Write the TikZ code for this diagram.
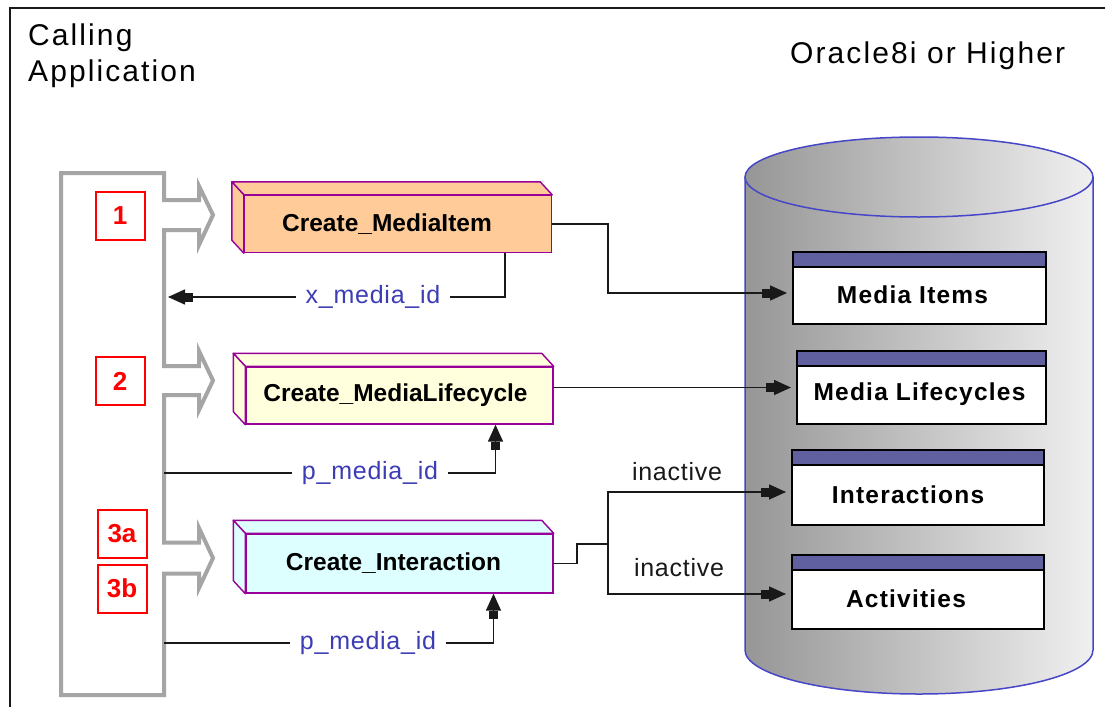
\documentclass[tikz,border=0pt]{standalone}
\usepackage{fontspec}
\setmainfont{Liberation Sans}
\newfontfamily\titlefont[LetterSpace=7]{Liberation Sans}
\newfontfamily\tablefont[LetterSpace=5]{Liberation Sans}
\newfontfamily\flowfont[LetterSpace=3]{Liberation Sans}
\usetikzlibrary{arrows.meta,calc}

\definecolor{appgray}{RGB}{165,165,165}
\definecolor{peach}{RGB}{255,204,153}
\definecolor{paleyellow}{RGB}{255,255,221}
\definecolor{palecyan}{RGB}{221,255,255}
\definecolor{boxpurple}{RGB}{153,0,153}
\definecolor{idblue}{RGB}{60,60,180}
\definecolor{dbblue}{RGB}{70,70,200}
\definecolor{headerblue}{RGB}{96,96,160}
\definecolor{cylleft}{RGB}{150,150,150}
\definecolor{cylright}{RGB}{240,240,240}
\definecolor{inkblack}{RGB}{25,25,25}

% caption set below the coloured header band, nudged sideways by #1
\newcommand\belowhdr[2]{\hspace*{#1}\raisebox{-7pt}[\height][\depth]{#2}}
% procedure caption nudged sideways by #1
\newcommand\nudged[2]{\hspace*{#1}#2}

\begin{document}
\begin{tikzpicture}[x=1pt,y=-1pt,
  proc/.style={draw=boxpurple, line width=1.4pt, minimum width=307pt,
    minimum height=57pt, inner sep=0pt,
    font=\fontsize{24.5}{28}\selectfont\bfseries},
  dbtable/.style={draw=black, fill=white, line width=2pt, inner sep=0pt,
    minimum width=252pt, minimum height=73pt,
    font=\tablefont\fontsize{24.5}{28}\selectfont\bfseries,
    path picture={
      \fill[headerblue] (path picture bounding box.north west) rectangle
        ([yshift=-15pt]path picture bounding box.north east);
      \draw[line width=2pt] ([yshift=-15pt]path picture bounding box.north west)
        -- ([yshift=-15pt]path picture bounding box.north east);}},
  stepnum/.style={draw=red, line width=2pt, text=red, inner sep=0pt,
    minimum width=49pt, minimum height=48pt,
    font=\fontsize{26}{30}\selectfont\bfseries},
  title/.style={anchor=base west, inner sep=0pt,
    font=\titlefont\fontsize{30}{34}\selectfont},
  conn/.style={draw=inkblack, line width=1.6pt},
  tipped/.style={-{Rectangle[length=8pt,width=9pt]Triangle[length=17pt,width=15pt]}},
  flowlbl/.style={fill=white, text=idblue, inner xsep=10pt, inner ysep=1pt,
    font=\flowfont\fontsize{25}{30}\selectfont},
  inact/.style={text=inkblack, inner sep=0pt,
    font=\flowfont\fontsize{25}{30}\selectfont},
]
\useasboundingbox (0,0) rectangle (1105,707);
\fill[white] (0,0) rectangle (1105,707);

% page frame
\draw[line width=2.5pt, inkblack] (1105,8) -- (10,8) -- (10,707);

% titles
\node[title] (calling) at (28,45) {Calling};
\node[title] (appl) at (28,81) {Application};
\node[title] (oracle) at (790,63) {Oracle8i or Higher};

% database cylinder
\shade[left color=cylleft, right color=cylright]
  (745,177) -- (745,650) arc[start angle=180, end angle=0, x radius=174, y radius=44]
  -- (1093,177) arc[start angle=0, end angle=-180, x radius=174, y radius=40] -- cycle;
\draw[dbblue, line width=1.5pt] (919,177) ellipse[x radius=174, y radius=40];
\draw[dbblue, line width=1.5pt]
  (745,177) -- (745,650) arc[start angle=180, end angle=0, x radius=174, y radius=44]
  -- (1093,177);

% tables
\node[dbtable, minimum width=253pt, minimum height=72pt] (mi) at (919.5,288) {\belowhdr{-14pt}{Media Items}};
\node[dbtable, minimum width=249pt] (ml) at (921.5,387.5) {\belowhdr{-4pt}{Media Lifecycles}};
\node[dbtable, minimum height=75pt] (int) at (918,487.5) {\belowhdr{-20pt}{Interactions}};
\node[dbtable, minimum height=74pt] (act) at (918,592) {\belowhdr{-24pt}{Activities}};

% calling application bracket with its three call arrows
\draw[appgray, line width=4pt, line join=miter]
  (61,173) -- (164,173) -- (164,200) -- (199,200) -- (199,186) -- (213,215)
  -- (199,245) -- (199,230) -- (164,230) -- (164,366) -- (199,366) -- (199,351)
  -- (213,380.5) -- (199,410) -- (199,395) -- (164,395) -- (164,542.5)
  -- (199,542.5) -- (199,528) -- (213,558) -- (199,588) -- (199,573.5)
  -- (164,573.5) -- (164,695) -- (61,695) -- cycle;

% step numbers
\node[stepnum] (s1) at (120,215.5) {1};
\node[stepnum] (s2) at (120,381) {2};
\node[stepnum] (s3a) at (122,534) {3a};
\node[stepnum] (s3b) at (122,588.5) {3b};

% procedures
\node[proc, fill=peach] (cmi) at (398,224) {\nudged{-22pt}{Create\_MediaItem}};
\node[proc, fill=paleyellow] (cml) at (399.5,395.5) {\nudged{-8pt}{Create\_MediaLifecycle}};
\node[proc, fill=palecyan, minimum height=59pt] (cia) at (399.5,563.5) {\nudged{-12pt}{Create\_Interaction}};
\foreach \n/\c in {cmi/peach, cml/paleyellow, cia/palecyan}{
  \filldraw[fill=\c, draw=boxpurple, line width=1.4pt, line join=round]
    (\n.north west) -- ++(-12,-13) -- ([shift={(-12,-13)}]\n.north east)
    -- (\n.north east) -- cycle;
  \filldraw[fill=\c, draw=boxpurple, line width=1.4pt, line join=round]
    (\n.north west) -- ++(-12,-13) -- ([shift={(-12,-13)}]\n.south west)
    -- (\n.south west) -- cycle;
}

% connector ends on the calling application
\coordinate (ret) at (168,297);
\coordinate (pin1) at (164,473);
\coordinate (pin2) at (164,643);
\coordinate (split) at (608,544);

% connectors
\draw[conn, tipped, shorten >=5pt] (cmi.east) -- ++(56,0) |- ([yshift=-5pt]mi.west);
\draw[conn, tipped] ([xshift=107pt]cmi.south) |- (ret);
\draw[conn, tipped, shorten >=5pt] (cml.east |- ml.west) -- (ml.west);
\draw[conn, tipped] (pin1) -| ([xshift=96pt]cml.south);
\draw[conn, tipped] (pin2) -| ([xshift=94pt]cia.south);
\draw[conn] (cia.east) -- ++(23,0) |- (split);
\draw[conn, tipped, shorten >=5pt] (split) |- ([yshift=-4.5pt]int.west);
\draw[conn, tipped, shorten >=5pt] (split) |- ([yshift=-2pt]act.west);

% connector labels
\node[flowlbl] (xid) at (373,297) {x\_media\_id};
\node[flowlbl] (pid1) at (370,473) {p\_media\_id};
\node[flowlbl] (pid2) at (368,643) {p\_media\_id};
\node[inact] (in1) at (677,472) {inactive};
\node[inact] (in2) at (679,568) {inactive};
\end{tikzpicture}
\end{document}
